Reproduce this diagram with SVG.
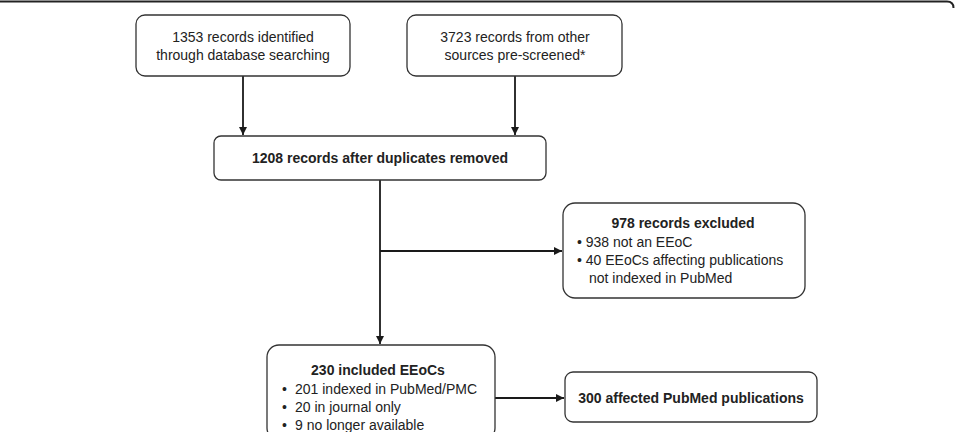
<svg xmlns="http://www.w3.org/2000/svg" width="955" height="432" viewBox="0 0 955 432">
<defs>
<marker id="ah" viewBox="0 0 10 10" refX="10" refY="5" markerWidth="4.5" markerHeight="4.5" orient="auto" markerUnits="strokeWidth">
<path d="M0,0 L10,5 L0,10 z" fill="#1a1a1a"/>
</marker>
<style>
.box{fill:#fff;stroke:#333;stroke-width:1.3}
.t{font-family:"Liberation Sans",Arial,sans-serif;font-size:14px;fill:#222}
.b{font-weight:bold}
.c{text-anchor:middle}
.ln{fill:none;stroke:#1a1a1a;stroke-width:1.8}
</style>
</defs>
<rect width="955" height="432" fill="#fff"/>
<path d="M0,1.5 H947 Q953.5,1.5 953.5,8" fill="none" stroke="#222" stroke-width="2"/>
<g id="connectors">
<line class="ln" x1="243" y1="76" x2="243" y2="135" marker-end="url(#ah)"/>
<line class="ln" x1="515" y1="76" x2="515" y2="135" marker-end="url(#ah)"/>
<line class="ln" x1="380" y1="180" x2="380" y2="344" marker-end="url(#ah)"/>
<line class="ln" x1="380" y1="251" x2="562" y2="251" marker-end="url(#ah)"/>
<line class="ln" x1="495" y1="398" x2="564" y2="398" marker-end="url(#ah)"/>
</g>
<g id="n1">
<rect class="box" x="136" y="15" width="214" height="61" rx="9"/>
<text class="t c" x="243" y="42">1353 records identified</text>
<text class="t c" x="243" y="60">through database searching</text>
</g>
<g id="n2">
<rect class="box" x="407" y="15" width="215" height="61" rx="9"/>
<text class="t c" x="515" y="42">3723 records from other</text>
<text class="t c" x="515" y="60">sources pre-screened*</text>
</g>
<g id="n3">
<rect class="box" x="214" y="136" width="332" height="44" rx="7"/>
<text class="t b c" x="380" y="163">1208 records after duplicates removed</text>
</g>
<g id="n4">
<rect class="box" x="563" y="203" width="242" height="95" rx="12"/>
<text class="t b c" x="683" y="228">978 records excluded</text>
<text class="t" x="577" y="247">• 938 not an EEoC</text>
<text class="t" x="577" y="265">• 40 EEoCs affecting publications</text>
<text class="t" x="589" y="283">not indexed in PubMed</text>
</g>
<g id="n5">
<rect class="box" x="267" y="345" width="228" height="95" rx="12"/>
<text class="t b c" x="378" y="375">230 included EEoCs</text>
<text class="t" x="282" y="394">•</text>
<text class="t" x="295" y="394">201 indexed in PubMed/PMC</text>
<text class="t" x="282" y="412">•</text>
<text class="t" x="295" y="412">20 in journal only</text>
<text class="t" x="282" y="430">•</text>
<text class="t" x="295" y="430">9 no longer available</text>
</g>
<g id="n6">
<rect class="box" x="565" y="372" width="252" height="50" rx="8"/>
<text class="t b c" x="691" y="403">300 affected PubMed publications</text>
</g>
</svg>
